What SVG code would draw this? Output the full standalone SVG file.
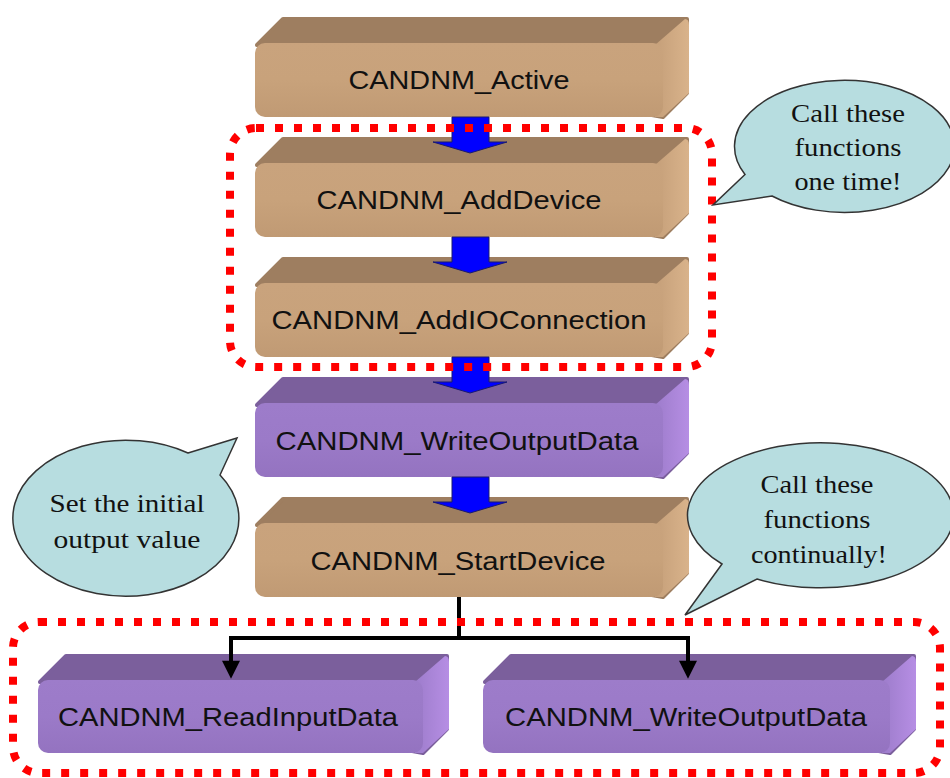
<svg xmlns="http://www.w3.org/2000/svg" width="950" height="778" viewBox="0 0 950 778">
<style>
.tanTop{fill:#9e7e60;stroke:#9e7e60;stroke-width:4;stroke-linejoin:round}
.tanSide{fill:url(#tanSideG);stroke:none}
.tanFront{fill:url(#tanFrontG)}
.purTop{fill:#7b5f9c;stroke:#7b5f9c;stroke-width:4;stroke-linejoin:round}
.purSide{fill:url(#purSideG);stroke:none}
.purFront{fill:url(#purFrontG)}
.lbl{font-family:"Liberation Sans",Arial,sans-serif;font-size:25px;fill:#111;text-anchor:middle}
.blue{fill:#0000ff;stroke:#1a1a6e;stroke-width:1}
.dots{fill:none;stroke:#ff0000;stroke-width:8;stroke-dasharray:8 11}
.wire{fill:none;stroke:#000;stroke-width:4}
.bubble{fill:#b7dde0;stroke:#333;stroke-width:1.5}
.note{font-family:"Liberation Serif","Times New Roman",serif;font-size:26px;fill:#111;text-anchor:middle}
</style>
<defs>
<linearGradient id="tanFrontG" x1="0" y1="0" x2="0" y2="1">
<stop offset="0" stop-color="#c9a37d"/><stop offset="0.5" stop-color="#c8a27b"/><stop offset="1" stop-color="#c09a74"/>
</linearGradient>
<linearGradient id="tanSideG" x1="0" y1="0" x2="1" y2="0">
<stop offset="0" stop-color="#c59f79"/><stop offset="1" stop-color="#d9b38b"/>
</linearGradient>
<linearGradient id="purFrontG" x1="0" y1="0" x2="0" y2="1">
<stop offset="0" stop-color="#9d7cca"/><stop offset="0.5" stop-color="#9b7ac8"/><stop offset="1" stop-color="#9473c0"/>
</linearGradient>
<linearGradient id="purSideG" x1="0" y1="0" x2="1" y2="0">
<stop offset="0" stop-color="#9d7ccb"/><stop offset="1" stop-color="#b68ee4"/>
</linearGradient>
<marker id="ah" viewBox="0 0 20 20" refX="8" refY="10" markerWidth="20" markerHeight="18" markerUnits="userSpaceOnUse" orient="auto">
<path d="M0,0 L20,10 L0,20 z" fill="#000"/>
</marker>
</defs>
<rect width="950" height="778" fill="#ffffff"/>

<g id="node-active">
<path class="tanTop" d="M257,45 L283,19 L687,19 L687,93 L663,117 Z"/>
<path class="tanSide" d="M655,45 L685,19 Q689,19 689,25 L689,93 L663,117 L655,117 Z"/>
<rect class="tanFront" x="255" y="43" width="408" height="74" rx="10"/>
<text class="lbl" x="459" y="89" textLength="221" lengthAdjust="spacingAndGlyphs">CANDNM_Active</text>
</g>

<g id="node-adddevice">
<path class="tanTop" d="M257,165 L283,139 L687,139 L687,213 L663,237 Z"/>
<path class="tanSide" d="M655,165 L685,139 Q689,139 689,145 L689,213 L663,237 L655,237 Z"/>
<rect class="tanFront" x="255" y="163" width="408" height="74" rx="10"/>
<text class="lbl" x="459" y="209" textLength="285" lengthAdjust="spacingAndGlyphs">CANDNM_AddDevice</text>
</g>

<g id="node-addio">
<path class="tanTop" d="M257,285 L283,259 L687,259 L687,333 L663,357 Z"/>
<path class="tanSide" d="M655,285 L685,259 Q689,259 689,265 L689,333 L663,357 L655,357 Z"/>
<rect class="tanFront" x="255" y="283" width="408" height="74" rx="10"/>
<text class="lbl" x="459" y="329" textLength="375" lengthAdjust="spacingAndGlyphs">CANDNM_AddIOConnection</text>
</g>

<g id="node-writeoutput1">
<path class="purTop" d="M257,405 L283,379 L687,379 L687,453 L663,477 Z"/>
<path class="purSide" d="M655,405 L685,379 Q689,379 689,385 L689,453 L663,477 L655,477 Z"/>
<rect class="purFront" x="255" y="403" width="408" height="74" rx="10"/>
<text class="lbl" x="457" y="450" textLength="363" lengthAdjust="spacingAndGlyphs">CANDNM_WriteOutputData</text>
</g>

<g id="node-startdevice">
<path class="tanTop" d="M257,525 L283,499 L687,499 L687,573 L663,597 Z"/>
<path class="tanSide" d="M655,525 L685,499 Q689,499 689,505 L689,573 L663,597 L655,597 Z"/>
<rect class="tanFront" x="255" y="523" width="408" height="74" rx="10"/>
<text class="lbl" x="458" y="570" textLength="295" lengthAdjust="spacingAndGlyphs">CANDNM_StartDevice</text>
</g>

<g id="node-readinput">
<path class="purTop" d="M40,682 L66,656 L447,656 L447,729 L423,753 Z"/>
<path class="purSide" d="M415,682 L445,656 Q449,656 449,662 L449,729 L423,753 L415,753 Z"/>
<rect class="purFront" x="38" y="680" width="385" height="73" rx="10"/>
<text class="lbl" x="228" y="726" textLength="340" lengthAdjust="spacingAndGlyphs">CANDNM_ReadInputData</text>
</g>

<g id="node-writeoutput2">
<path class="purTop" d="M485,682 L511,656 L914,656 L914,729 L890,753 Z"/>
<path class="purSide" d="M882,682 L912,656 Q916,656 916,662 L916,729 L890,753 L882,753 Z"/>
<rect class="purFront" x="483" y="680" width="407" height="73" rx="10"/>
<text class="lbl" x="686" y="726" textLength="362" lengthAdjust="spacingAndGlyphs">CANDNM_WriteOutputData</text>
</g>

<g id="connectors">
<path class="blue" d="M452,117 H489 V142 H507 L470,153 L433,142 H452 Z"/>
<path class="blue" d="M452,237 H489 V262 H507 L470,273 L433,262 H452 Z"/>
<path class="blue" d="M452,357 H489 V382 H507 L470,393 L433,382 H452 Z"/>
<path class="blue" d="M452,477 H489 V502 H507 L470,513 L433,502 H452 Z"/>
<path class="wire" d="M459,597 V638 M229,638 H690"/>
<path class="wire" d="M231,638 V668" marker-end="url(#ah)"/>
<path class="wire" d="M688,638 V668" marker-end="url(#ah)"/>
</g>

<g id="group-once">
<rect class="dots" x="230" y="128" width="482" height="239" rx="26"/>
</g>
<g id="group-continual">
<rect class="dots" x="13" y="622" width="927" height="151" rx="26"/>
</g>

<g id="note-once">
<path class="bubble" d="M745,174.5 L713,205 L772,196 A110 66 0 1 0 745,174.5 Z"/>
<text class="note" x="848" y="122" textLength="114" lengthAdjust="spacingAndGlyphs">Call these</text>
<text class="note" x="848" y="156" textLength="107" lengthAdjust="spacingAndGlyphs">functions</text>
<text class="note" x="848" y="190" textLength="107" lengthAdjust="spacingAndGlyphs">one time!</text>
</g>

<g id="note-initial">
<path class="bubble" d="M188,453 L237,438 L220,475 A113 78 0 1 1 188,453 Z"/>
<text class="note" x="127" y="512" textLength="155" lengthAdjust="spacingAndGlyphs">Set the initial</text>
<text class="note" x="127" y="548" textLength="147" lengthAdjust="spacingAndGlyphs">output value</text>
</g>

<g id="note-continual">
<path class="bubble" d="M722,564 L685,615 L757,579 A133 72.5 0 1 0 722,564 Z"/>
<text class="note" x="817" y="493" textLength="113" lengthAdjust="spacingAndGlyphs">Call these</text>
<text class="note" x="817" y="528" textLength="107" lengthAdjust="spacingAndGlyphs">functions</text>
<text class="note" x="819" y="563" textLength="136" lengthAdjust="spacingAndGlyphs">continually!</text>
</g>
</svg>
